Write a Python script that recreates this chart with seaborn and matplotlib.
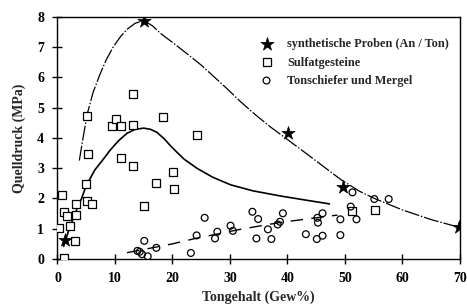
import matplotlib as mpl
mpl.use("Agg")
import matplotlib.pyplot as plt
import seaborn as sns
import pandas as pd
import numpy as np

# synthetic samples (stars)
star_x = [1.4, 15.0, 40.1, 49.7, 69.8]
star_y = [0.63, 7.86, 4.15, 2.37, 1.05]

# Sulfatgesteine (squares)
sq_x = [0.3, 0.73, 1.15, 1.6, 3.15, 3.2, 2.1, 3.05, 1.19, 5.1, 6.07, 4.97, 5.38, 5.2,
        11.08, 13.1, 14.97, 17.1, 20.1, 20.2, 13.1, 9.46, 10.2, 11.0, 13.1, 18.3, 24.2,
        55.2, 51.3]
sq_y = [1.01, 2.12, 1.54, 1.43, 1.46, 1.82, 1.1, 0.59, 0.04, 1.9, 1.8, 2.47, 3.47, 4.73,
        3.34, 3.07, 1.76, 2.52, 2.88, 2.30, 5.45, 4.4, 4.61, 4.4, 4.41, 4.7, 4.09,
        1.62, 1.58]

# Tonschiefer und Mergel (circles)
ci_x = [13.9, 14.3, 15.1, 14.7, 15.7, 17.2, 23.2, 24.2, 25.6, 27.4, 27.8, 30.1, 30.5,
        33.9, 34.9, 34.6, 36.6, 37.2, 38.3, 38.7, 39.2, 43.2, 45.1, 46.1, 45.2, 45.3,
        46.1, 49.2, 49.2, 51.0, 51.3, 52.0, 55.1, 57.6]
ci_y = [0.27, 0.24, 0.6, 0.16, 0.09, 0.37, 0.2, 0.78, 1.36, 0.68, 0.9, 1.1, 0.93,
        1.56, 1.32, 0.68, 0.98, 0.66, 1.14, 1.23, 1.51, 0.82, 0.66, 0.77, 1.36, 1.2,
        1.51, 1.31, 0.79, 1.73, 2.2, 1.31, 1.98, 1.98]

# upper envelope (dash-dot)
env_x = [3.8, 4.5, 5.2, 6.2, 7.4, 8.5, 9.7, 11.0, 12.1, 13.5, 15.0, 16.5, 17.9, 20.0,
         22.5, 25.0, 27.2, 29.5, 31.8, 34.5, 37.1, 40.1, 43.0, 45.8, 49.3, 52.5, 55.1,
         60.0, 65.0, 69.8]
env_y = [3.25, 4.05, 4.8, 5.5, 6.1, 6.58, 7.0, 7.35, 7.58, 7.78, 7.87, 7.7, 7.45, 7.15,
         6.78, 6.4, 6.02, 5.62, 5.2, 4.75, 4.35, 3.93, 3.52, 3.12, 2.62, 2.24, 2.0,
         1.62, 1.3, 1.05]

# middle solid curve
mid_x = [1.1, 1.4, 2.2, 3.05, 4.2, 5.0, 6.5, 8.0, 9.2, 10.6, 12.1, 13.5, 15.0, 16.2,
         17.3, 18.5, 19.6, 20.8, 22.0, 24.3, 27.0, 30.1, 34.0, 38.8, 43.0, 47.3]
mid_y = [0.42, 0.63, 1.07, 1.5, 2.0, 2.42, 2.94, 3.3, 3.6, 3.9, 4.15, 4.28, 4.32, 4.28,
         4.18, 3.98, 3.75, 3.52, 3.3, 2.99, 2.7, 2.45, 2.25, 2.08, 1.95, 1.82]

# trend of the clay/marl samples (dashed)
reg_x = [12.1, 20.0, 24.0, 31.8, 38.5, 44.1, 48.7]
reg_y = [0.21, 0.5, 0.68, 0.98, 1.2, 1.34, 1.45]

sns.set_style("ticks")
plt.rcParams['font.family'] = ['Liberation Serif', 'DejaVu Serif']
plt.rcParams['font.weight'] = 'bold'

fig = plt.figure(figsize=(4.67, 3.08), dpi=100)
ax = fig.add_axes([0.123, 0.159, 0.862, 0.787])

sns.lineplot(x=env_x, y=env_y, sort=False, color='black', lw=0.9, ax=ax, estimator=None)
ax.lines[-1].set_dashes([12, 1.5, 1.2, 1.5])
sns.lineplot(x=mid_x, y=mid_y, sort=False, color='black', lw=1.2, ax=ax, estimator=None)
sns.lineplot(x=reg_x, y=reg_y, sort=False, color='black', lw=1.0, ax=ax, estimator=None)
ax.lines[-1].set_dashes([9, 6])

sns.scatterplot(x=sq_x, y=sq_y, marker='s', s=28, facecolor='white', edgecolor='black',
                linewidth=0.9, ax=ax, label='Sulfatgesteine', zorder=3)
sns.scatterplot(x=ci_x, y=ci_y, marker='o', s=24, facecolor='none', edgecolor='black',
                linewidth=0.9, ax=ax, label='Tonschiefer und Mergel', zorder=3)
sns.scatterplot(x=star_x, y=star_y, marker='*', s=100, color='black', edgecolor='black',
                linewidth=0.5, ax=ax, label='synthetische Proben (An / Ton)', zorder=4)

ax.set_xlim(0, 70)
ax.set_ylim(0, 8)
ax.set_xticks(range(0, 71, 10))
ax.set_yticks(range(0, 9))
for sp in ax.spines.values():
    sp.set_visible(True)
    sp.set_color('black')
    sp.set_linewidth(1.0)
ax.tick_params(direction='inout', length=7, width=1.0, labelsize=10, colors='black',
               pad=6)
for lab in ax.get_xticklabels() + ax.get_yticklabels():
    lab.set_fontweight('bold')

ax.set_xlabel("Tongehalt (Gew%)", fontsize=10, fontweight='bold', labelpad=4)
ax.set_ylabel("Quelldruck (MPa)", fontsize=10, fontweight='bold', labelpad=8)

h, l = ax.get_legend_handles_labels()
order = [2, 0, 1]
ax.legend([h[i] for i in order], [l[i] for i in order], loc='upper left',
          bbox_to_anchor=(0.489, 0.935), frameon=False, borderpad=0,
          handlelength=1.0, handletextpad=1.2, labelspacing=0.5,
          prop={'weight': 'bold', 'size': 8.8})

fig.savefig("out.png", dpi=100)
